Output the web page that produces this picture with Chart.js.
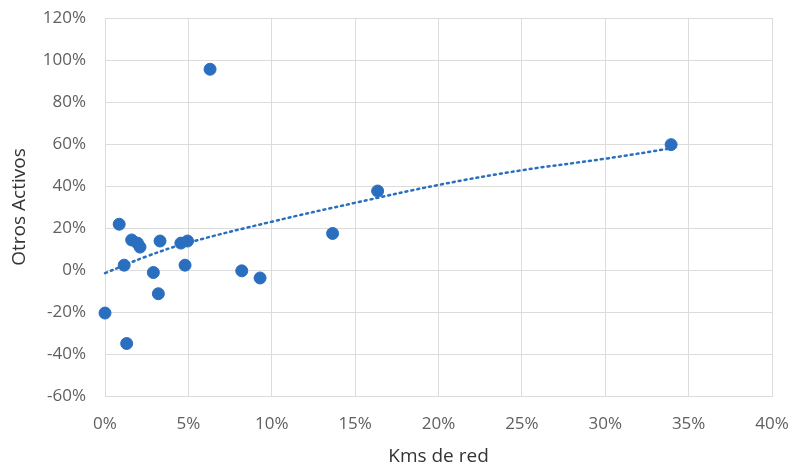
<!DOCTYPE html>
<html>
<head>
<meta charset="utf-8">
<script src="https://cdn.jsdelivr.net/npm/chart.js@4/dist/chart.umd.min.js"></script>
<style>
  html, body { margin: 0; padding: 0; background: #fff; }
  #wrap { width: 793px; height: 470px; }
</style>
</head>
<body>
<div id="wrap"><canvas id="chart" width="793" height="470"></canvas></div>
<script>
// Kms de red (%) vs Otros Activos (%)
const kmsRed = [0, 0.85, 1.15, 1.3, 1.6, 1.95, 2.1, 2.9, 3.2, 3.3, 4.55, 4.95, 4.8, 6.3, 8.2, 9.3, 13.65, 16.35, 33.95];
const otrosActivos = [-20.5, 21.8, 2.3, -35, 14.3, 12.8, 10.9, -1.2, -11.3, 13.8, 12.8, 13.8, 2.3, 95.6, -0.4, -3.8, 17.4, 37.6, 59.7];

// dotted trend line
const trendX = [0, 2.5, 5, 10, 15, 20, 25, 30, 34];
const trendY = [-1.5, 6.5, 13, 23, 32, 40.5, 47.5, 53, 58];

const xTicks = [0, 5, 10, 15, 20, 25, 30, 35, 40];
const yTicks = [-60, -40, -20, 0, 20, 40, 60, 80, 100, 120];

const blue = '#2a6fbf';
const gridColor = '#dcdcdc';
const tickColor = '#5f5f5f';

const points = kmsRed.map((x, i) => ({ x, y: otrosActivos[i] }));
const trend = trendX.map((x, i) => ({ x, y: trendY[i] }));

new Chart(document.getElementById('chart'), {
  type: 'scatter',
  data: {
    datasets: [
      {
        label: 'Otros Activos',
        data: points,
        backgroundColor: blue,
        borderColor: blue,
        pointRadius: 6,
        pointHoverRadius: 6,
        clip: false,
      },
      {
        label: 'Tendencia',
        data: trend,
        showLine: true,
        borderColor: blue,
        borderWidth: 2.5,
        borderDash: [2, 4],
        borderCapStyle: 'round',
        tension: 0.4,
        pointRadius: 0,
        fill: false,
        clip: false,
      },
    ],
  },
  options: {
    responsive: false,
    animation: false,
    layout: { padding: { left: 8, right: 21, top: 18, bottom: 2 } },
    plugins: {
      legend: { display: false },
      tooltip: { enabled: false },
    },
    scales: {
      x: {
        type: 'linear',
        min: 0,
        max: 40,
        afterBuildTicks: (axis) => { axis.ticks = xTicks.map(v => ({ value: v })); },
        afterFit: (axis) => {
          axis.height = 470 - 396 - 2;
          axis.paddingLeft = 0;
          axis.paddingRight = 0;
        },
        grid: { color: gridColor, drawTicks: false },
        border: { color: gridColor },
        ticks: {
          padding: 18,
          color: tickColor,
          font: { family: 'Open Sans', size: 17 },
          callback: (v) => v + '%',
        },
        title: {
          display: true,
          text: 'Kms de red',
          color: '#333',
          font: { family: 'Open Sans', size: 19 },
          padding: { top: 2, bottom: 0 },
        },
      },
      y: {
        type: 'linear',
        min: -60,
        max: 120,
        afterBuildTicks: (axis) => { axis.ticks = yTicks.map(v => ({ value: v })); },
        afterFit: (axis) => {
          axis.width = 105 - 8;
          axis.paddingTop = 0;
          axis.paddingBottom = 0;
        },
        grid: { color: gridColor, drawTicks: false },
        border: { color: gridColor },
        ticks: {
          padding: 19,
          color: tickColor,
          font: { family: 'Open Sans', size: 17 },
          callback: (v) => v + '%',
        },
        title: {
          display: true,
          text: 'Otros Activos',
          color: '#333',
          font: { family: 'Open Sans', size: 19 },
          padding: { top: 0, bottom: 4 },
        },
      },
    },
  },
});
</script>
</body>
</html>
